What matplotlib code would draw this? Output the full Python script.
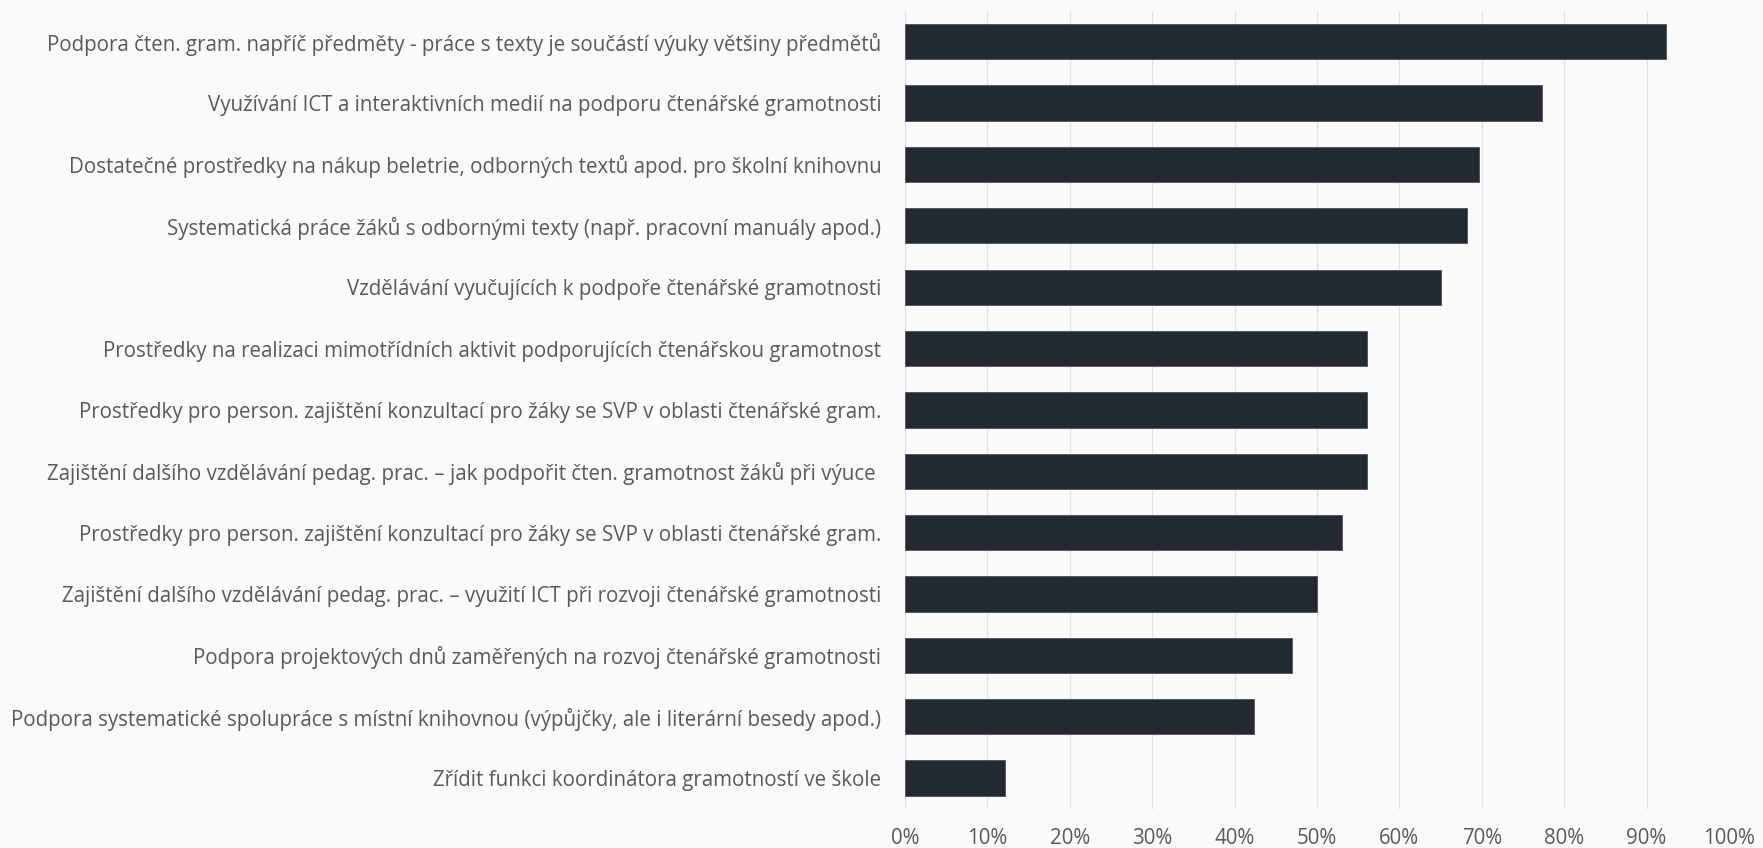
import matplotlib
matplotlib.use("Agg")
import matplotlib.pyplot as plt
import numpy as np

categories = [
    "Podpora čten. gram. napříč předměty - práce s texty je součástí výuky většiny předmětů",
    "Využívání ICT a interaktivních medií na podporu čtenářské gramotnosti",
    "Dostatečné prostředky na nákup beletrie, odborných textů apod. pro školní knihovnu",
    "Systematická práce žáků s odbornými texty (např. pracovní manuály apod.)",
    "Vzdělávání vyučujících k podpoře čtenářské gramotnosti",
    "Prostředky na realizaci mimotřídních aktivit podporujících čtenářskou gramotnost",
    "Prostředky pro person. zajištění konzultací pro žáky se SVP v oblasti čtenářské gram.",
    "Zajištění dalšího vzdělávání pedag. prac. – jak podpořit čten. gramotnost žáků při výuce ",
    "Prostředky pro person. zajištění konzultací pro žáky se SVP v oblasti čtenářské gram.",
    "Zajištění dalšího vzdělávání pedag. prac. – využití ICT při rozvoji čtenářské gramotnosti",
    "Podpora projektových dnů zaměřených na rozvoj čtenářské gramotnosti",
    "Podpora systematické spolupráce s místní knihovnou (výpůjčky, ale i literární besedy apod.)",
    "Zřídit funkci koordinátora gramotností ve škole",
]
values = [0.924, 0.773, 0.697, 0.682, 0.651, 0.561, 0.561, 0.561, 0.530, 0.500, 0.470, 0.424, 0.121]
x_ticks = [0, 0.1, 0.2, 0.3, 0.4, 0.5, 0.6, 0.7, 0.8, 0.9, 1.0]
x_tick_labels = ["0%", "10%", "20%", "30%", "40%", "50%", "60%", "70%", "80%", "90%", "100%"]

plt.rcParams['font.family'] = ['Open Sans', 'DejaVu Sans']

bg = "#fafafa"
fig = plt.figure(figsize=(17.63, 8.48), dpi=100, facecolor=bg)
ax = fig.add_axes([0.5133, 0.0463, 0.9807 - 0.5133, 0.987 - 0.0463], facecolor=bg)

ypos = np.arange(len(categories))
ax.barh(ypos, values, height=0.575, color="#222933", edgecolor="#4a5260", linewidth=0.6, zorder=3)

ax.set_ylim(len(categories) - 0.5, -0.5)
ax.set_xlim(0, 1.0)
ax.set_yticks(ypos)
ax.set_yticklabels(categories, fontsize=14.8, color="#595959")
ax.set_xticks(x_ticks)
ax.set_xticklabels(x_tick_labels, fontsize=14.8, color="#595959")
ax.tick_params(axis="y", length=0, pad=17)
ax.tick_params(axis="x", length=0, pad=14)
ax.grid(axis="x", color="#e0e0e0", linewidth=0.9, zorder=0)
ax.grid(axis="y", visible=False)
for s in ax.spines.values():
    s.set_visible(False)

fig.savefig("out.png", dpi=100, facecolor=bg)
